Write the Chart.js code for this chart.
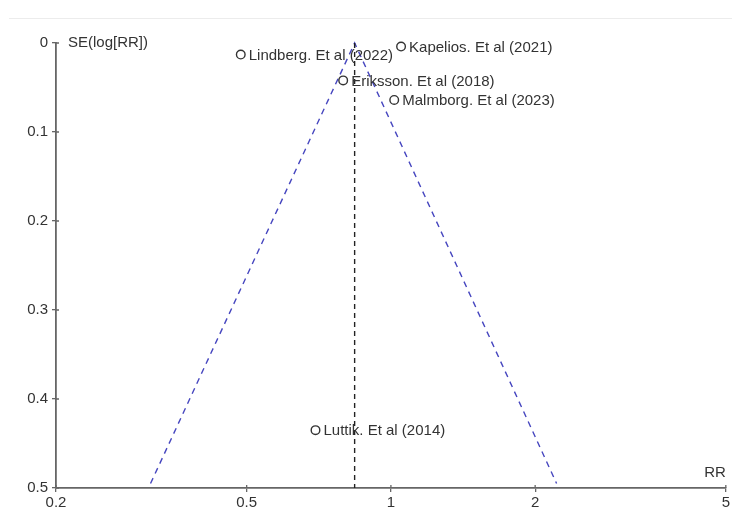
<!DOCTYPE html>
<html>
<head>
<meta charset="utf-8">
<script src="https://cdn.jsdelivr.net/npm/chart.js@4/dist/chart.umd.min.js"></script>
<style>
    html, body { margin: 0; padding: 0; background: #fff; }
    #wrap { position: relative; width: 732px; height: 511px; }
    #topline { position: absolute; left: 9px; right: 0; top: 18px; height: 1px; background: #ececec; }
</style>
</head>
<body>
<div id="wrap">
    <div id="topline"></div>
    <canvas id="funnelChart" width="732" height="511"></canvas>
</div>
<script>
// studies
const studyNames = [
    'Lindberg. Et al (2022)',
    'Kapelios. Et al (2021)',
    'Eriksson. Et al (2018)',
    'Malmborg. Et al (2023)',
    'Luttik. Et al (2014)'
];
const rrValues = [0.486, 1.05, 0.795, 1.016, 0.696];
const seValues = [0.013, 0.004, 0.042, 0.064, 0.435];

// pooled estimate and funnel limits
const pooledRR = 0.84;
const funnelLowRR = 0.315;
const funnelHighRR = 2.217;
const funnelBottomSE = 0.495;

const xTicks = [0.2, 0.5, 1, 2, 5];
const yTicks = [0, 0.1, 0.2, 0.3, 0.4, 0.5];

const studyPoints = rrValues.map((rr, i) => ({ x: rr, y: seValues[i] }));

// draws study names next to the circles, axis titles and the inner half of the tick marks
const labelPlugin = {
    id: 'studyLabels',
    afterDraw(chart) {
        const ctx = chart.ctx;
        const area = chart.chartArea;
        const xs = chart.scales.x, ys = chart.scales.y;
        ctx.save();
        ctx.strokeStyle = '#666';
        ctx.lineWidth = 1.3;
        ctx.beginPath();
        xTicks.forEach(v => {
            const px = xs.getPixelForValue(v);
            ctx.moveTo(px, area.bottom);
            ctx.lineTo(px, area.bottom - 3);
        });
        yTicks.forEach(v => {
            const py = ys.getPixelForValue(v);
            ctx.moveTo(area.left, py);
            ctx.lineTo(area.left + 3, py);
        });
        ctx.stroke();

        ctx.font = '15px "Liberation Sans", Arial, sans-serif';
        ctx.fillStyle = '#333';
        ctx.textBaseline = 'middle';
        ctx.textAlign = 'left';
        chart.getDatasetMeta(0).data.forEach((pt, i) => {
            ctx.fillText(studyNames[i], pt.x + 8, pt.y + 1);
        });
        ctx.fillText('SE(log[RR])', area.left + 12, area.top);
        ctx.textAlign = 'right';
        ctx.fillText('RR', area.right, area.bottom - 15);
        ctx.restore();
    }
};

const chart = new Chart(document.getElementById('funnelChart'), {
    type: 'scatter',
    data: {
        datasets: [
        {
            label: 'Studies',
            data: studyPoints,
            pointStyle: 'circle',
            pointRadius: 4.3,
            pointBorderWidth: 1.4,
            pointBorderColor: '#333',
            pointBackgroundColor: '#fff',
            clip: false,
            order: 0
        },
        {
            label: 'Funnel',
            data: [
                { x: funnelLowRR, y: funnelBottomSE },
                { x: pooledRR, y: 0 },
                { x: funnelHighRR, y: funnelBottomSE }
            ],
            showLine: true,
            borderColor: '#4646bf',
            borderWidth: 1.4,
            borderDash: [6, 5],
            pointRadius: 0,
            clip: false,
            order: 2
        },
        {
            label: 'Pooled',
            data: [
                { x: pooledRR, y: 0 },
                { x: pooledRR, y: 0.5 }
            ],
            showLine: true,
            borderColor: '#222',
            borderWidth: 1.4,
            borderDash: [5, 4],
            pointRadius: 0,
            order: 1
        }
        ]
    },
    options: {
        responsive: false,
        animation: false,
        layout: { padding: { top: 43, right: 6, left: 0, bottom: 0 } },
        plugins: {
            legend: { display: false },
            tooltip: { enabled: false }
        },
        scales: {
            x: {
                type: 'logarithmic',
                min: 0.2,
                max: 5,
                afterBuildTicks: (scale) => { scale.ticks = xTicks.map(v => ({ value: v })); },
                afterFit: (scale) => { scale.height = 23; },
                border: { display: true, color: '#666', width: 1.8 },
                grid: { drawOnChartArea: false, drawTicks: true, tickLength: 4, color: '#666', lineWidth: 1.3 },
                ticks: {
                    autoSkip: false,
                    maxRotation: 0,
                    padding: 2,
                    color: '#333',
                    font: { family: '"Liberation Sans", Arial, sans-serif', size: 15 },
                    callback: (v) => String(v)
                }
            },
            y: {
                type: 'linear',
                reverse: true,
                min: 0,
                max: 0.5,
                afterBuildTicks: (scale) => { scale.ticks = yTicks.map(v => ({ value: v })); },
                afterFit: (scale) => { scale.width = 56; },
                border: { display: true, color: '#666', width: 1.8 },
                grid: { drawOnChartArea: false, drawTicks: true, tickLength: 4, color: '#666', lineWidth: 1.3 },
                ticks: {
                    padding: 4,
                    color: '#333',
                    font: { family: '"Liberation Sans", Arial, sans-serif', size: 15 },
                    callback: (v) => String(v)
                }
            }
        }
    },
    plugins: [labelPlugin]
});
</script>
</body>
</html>
